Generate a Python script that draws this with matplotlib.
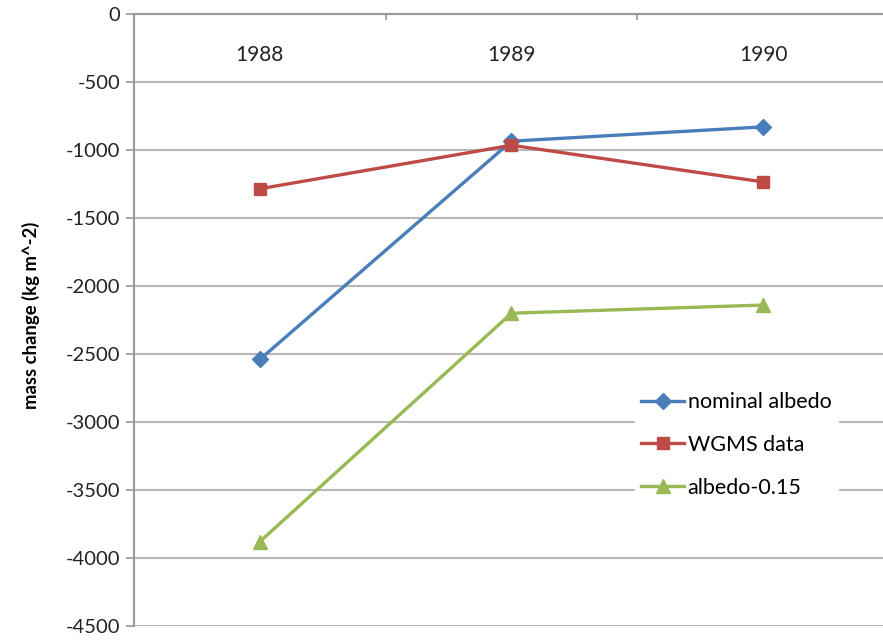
import numpy as np
import matplotlib
matplotlib.use("Agg")
import matplotlib.pyplot as plt

years = ["1988", "1989", "1990"]
nominal_albedo = [-2540, -935, -830]
wgms_data = [-1285, -965, -1235]
albedo_015 = [-3880, -2200, -2140]
y_ticks = list(range(0, -5000, -500))

plt.rcParams['font.family'] = ['Lato', 'DejaVu Sans']

fig = plt.figure(figsize=(8.83, 6.4), dpi=100)
# plot area runs past the right edge of the image, like the original
ax = fig.add_axes([134 / 883, 14 / 640, (889 - 134) / 883, (626 - 14) / 640])

x = np.arange(len(years))
ax.plot(x, nominal_albedo, color='#4a7ebb', lw=2.4, marker='D', ms=8, label='nominal albedo')
ax.plot(x, wgms_data, color='#be4b48', lw=2.4, marker='s', ms=9, label='WGMS data')
ax.plot(x, albedo_015, color='#98b954', lw=2.4, marker='^', ms=10, label='albedo-0.15')

ax.set_xlim(-0.5, len(years) - 0.5)
ax.set_ylim(-4500, 0)
ax.set_yticks(y_ticks)
ax.set_yticklabels([str(v) for v in y_ticks])
ax.yaxis.grid(True, color='#b8b8b8', lw=1.5)
ax.set_axisbelow(True)

# category axis sits at y=0 (top), labels inside the plot
ax.xaxis.set_ticks_position('top')
ax.set_xticks(x)
ax.set_xticklabels(years)
ax.set_xticks(x[:-1] + 0.5, minor=True)
ax.tick_params(axis='x', which='major', length=0, labeltop=True, labelbottom=False,
               pad=-37, labelsize=15, labelcolor='#222222')
ax.tick_params(axis='x', which='minor', direction='in', length=4, color='#999999', width=1.2)
ax.tick_params(axis='y', length=6, color='#999999', width=1.2, labelsize=14.5,
               labelcolor='#222222', pad=4)

for side in ['right', 'bottom']:
    ax.spines[side].set_visible(False)
for side in ['left', 'top']:
    ax.spines[side].set_color('#999999')
    ax.spines[side].set_linewidth(1.5)

ax.set_ylabel('mass change (kg m^-2)', fontsize=13.3, fontweight='bold')
ax.yaxis.set_label_coords(-0.124, 0.508)

leg = ax.legend(loc='upper left', bbox_to_anchor=(0.649, 0.41), frameon=True,
                fontsize=15.5, handlelength=2.0, handletextpad=0.15, labelspacing=1.05,
                borderpad=0.3, fancybox=False)
leg.get_frame().set_edgecolor('white')
leg.get_frame().set_facecolor('white')
leg.get_frame().set_alpha(1)

fig.savefig('out.png', dpi=100)
